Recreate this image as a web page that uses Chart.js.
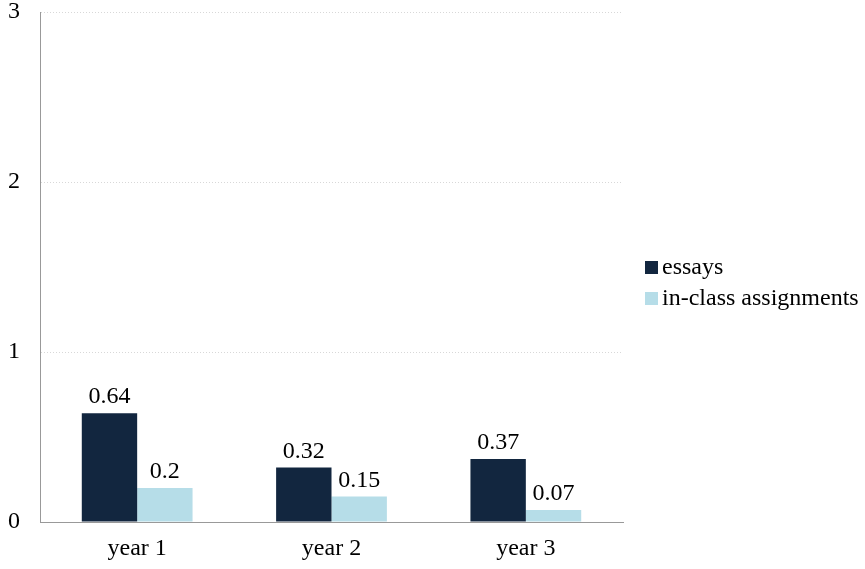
<!DOCTYPE html>
<html>
<head>
<meta charset="utf-8">
<script src="https://cdn.jsdelivr.net/npm/chart.js@4"></script>
<style>
  html, body { margin: 0; padding: 0; background: #fff; }
  #wrap { width: 865px; height: 569px; }
</style>
</head>
<body>
<div id="wrap"><canvas id="myChart"></canvas></div>
<script>
const years = ['year 1', 'year 2', 'year 3'];
const essays = [0.64, 0.32, 0.37];
const inClass = [0.2, 0.15, 0.07];
const yTicks = [0, 1, 2, 3];

const serif = '"Liberation Serif", "Times New Roman", serif';
const fontSize = 24;

// writes each bar's value just above it
const valueLabels = {
    id: 'valueLabels',
    afterDatasetsDraw(chart) {
        const c = chart.ctx;
        c.save();
        c.font = fontSize + 'px ' + serif;
        c.fillStyle = '#000';
        c.textAlign = 'center';
        c.textBaseline = 'bottom';
        chart.data.datasets.forEach((ds, i) => {
            chart.getDatasetMeta(i).data.forEach((bar, j) => {
                c.fillText(String(ds.data[j]), bar.x, bar.y - 4);
            });
        });
        c.restore();
    }
};

// small legend to the right of the plot, box close to the text
const sideLegend = {
    id: 'sideLegend',
    afterDraw(chart) {
        const c = chart.ctx;
        const x = chart.chartArea.right + 22;
        const y0 = 268;
        const step = 31;
        c.save();
        c.font = fontSize + 'px ' + serif;
        c.textBaseline = 'middle';
        c.textAlign = 'left';
        chart.data.datasets.forEach((ds, i) => {
            const y = y0 + i * step;
            c.fillStyle = ds.backgroundColor;
            c.fillRect(x, y - 7, 13, 13);
            c.fillStyle = '#000';
            c.fillText(ds.label, x + 17, y);
        });
        c.restore();
    }
};

const ctx = document.getElementById('myChart');

new Chart(ctx, {
    type: 'bar',
    data: {
        labels: years,
        datasets: [{
            label: 'essays',
            data: essays,
            backgroundColor: '#12263F'
        }, {
            label: 'in-class assignments',
            data: inClass,
            backgroundColor: '#B6DDE8'
        }]
    },
    options: {
        responsive: true,
        maintainAspectRatio: false,
        animation: false,
        layout: { padding: { top: 2, right: 242, bottom: 0, left: 8 } },
        datasets: {
            bar: { barPercentage: 1, categoryPercentage: 0.57 }
        },
        plugins: {
            tooltip: { enabled: false },
            legend: { display: false }
        },
        scales: {
            x: {
                grid: { display: false, drawTicks: false },
                border: { color: '#999' },
                ticks: { font: { family: serif, size: fontSize }, color: '#000', padding: 12 },
                afterFit(axis) {
                    axis.height = 47;
                    axis.paddingLeft = 0;
                    axis.paddingRight = 0;
                }
            },
            y: {
                min: 0,
                max: 3,
                afterBuildTicks(axis) {
                    axis.ticks = yTicks.map(v => ({ value: v }));
                },
                grid: { color: '#d8d8d8', drawTicks: false },
                border: { color: '#999', dash: [1, 2] },
                ticks: { font: { family: serif, size: fontSize }, color: '#000', padding: 20 },
                afterFit(axis) {
                    axis.width = 32;
                    axis.paddingTop = 12;
                    axis.paddingBottom = 0;
                }
            }
        }
    },
    plugins: [valueLabels, sideLegend]
});
</script>
</body>
</html>
